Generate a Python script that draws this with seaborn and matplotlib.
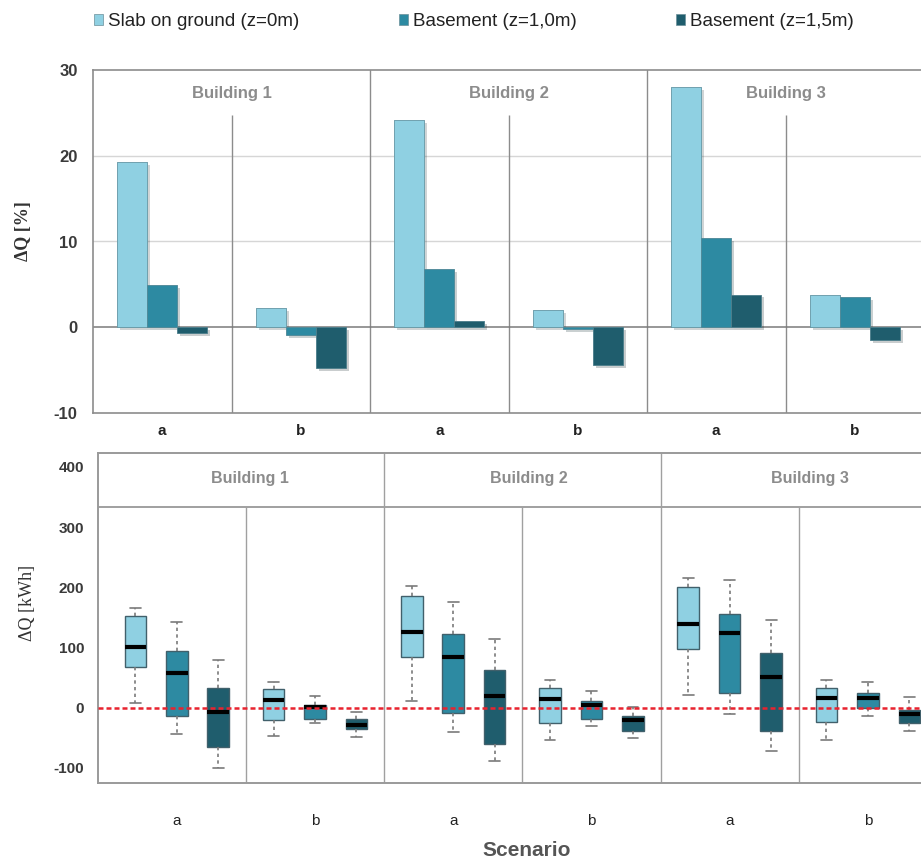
import numpy as np
import pandas as pd
import matplotlib
matplotlib.use('Agg')
import matplotlib.pyplot as plt
import matplotlib.patheffects as pe
from matplotlib.patches import Patch
import seaborn as sns

# ======================================
# data
# ======================================

buildings = ['Building 1', 'Building 2', 'Building 3']
scenarios = ['a', 'b']
groups = ['1a', '1b', '2a', '2b', '3a', '3b']
foundations = ['Slab on ground (z=0m)', 'Basement (z=1,0m)', 'Basement (z=1,5m)']
colors = ['#8fd0e2', '#2d8aa2', '#1f5d6d']

# relative change [%], group order 1a, 1b, 2a, 2b, 3a, 3b
dq_pct_slab = [19.3, 2.2, 24.2, 2.0, 28.0, 3.8]
dq_pct_b10 = [4.9, -0.9, 6.8, -0.2, 10.4, 3.5]
dq_pct_b15 = [-0.7, -4.8, 0.7, -4.4, 3.8, -1.5]

# absolute change [kWh]: whisker low, q1, median, q3, whisker high
dq_kwh_slab = [
    [8, 67, 101, 153, 166],
    [-47, -21, 13, 31, 42],
    [11, 84, 125, 186, 202],
    [-54, -25, 14, 33, 46],
    [21, 97, 139, 200, 216],
    [-53, -24, 16, 32, 46],
]
dq_kwh_b10 = [
    [-44, -14, 58, 95, 142],
    [-26, -18, 1, 4, 19],
    [-40, -8, 85, 122, 175],
    [-31, -19, 4, 11, 27],
    [-10, 25, 124, 156, 212],
    [-13, 0, 16, 25, 42],
]
dq_kwh_b15 = [
    [-100, -65, -7, 33, 80],
    [-48, -36, -28, -19, -7],
    [-89, -61, 19, 62, 114],
    [-51, -39, -21, -14, 2],
    [-72, -38, 51, 91, 146],
    [-38, -25, -11, -3, 17],
]

pct = pd.DataFrame({
    'group': groups * 3,
    'foundation': np.repeat(foundations, len(groups)),
    'dq': dq_pct_slab + dq_pct_b10 + dq_pct_b15,
})

rows = []
for f, stats in zip(foundations, [dq_kwh_slab, dq_kwh_b10, dq_kwh_b15]):
    for g, s in zip(groups, stats):
        for v in s:
            rows.append((g, f, v))
kwh = pd.DataFrame(rows, columns=['group', 'foundation', 'dq'])

# ======================================
# style
# ======================================

sns.set_style('white')
plt.rcParams['font.family'] = ['Liberation Sans', 'DejaVu Sans']
plt.rcParams['axes.unicode_minus'] = False
GRAY = '#8c8c8c'
TXT = '#3a3a3a'

W, H = 921, 863
fig = plt.figure(figsize=(W / 100, H / 100), dpi=100)

# ======================================
# 1. BAR CHART  dQ [%]
# ======================================

ax1 = fig.add_axes([93 / W, 1 - 413 / H, 831 / W, 343 / H])

sns.barplot(
    data=pct, x='group', y='dq', hue='foundation',
    order=groups, hue_order=foundations, palette=colors, saturation=1,
    width=0.65, gap=0, errorbar=None, legend=False,
    edgecolor='#5d8b97', linewidth=0.4, zorder=3, ax=ax1
)
for bar in ax1.patches:
    bar.set_path_effects([pe.withSimplePatchShadow(offset=(2, -2), alpha=0.22), pe.Normal()])

ax1.set_xlim(-0.5, 5.5)
ax1.set_ylim(-10, 30)
ax1.set_yticks([-10, 0, 10, 20, 30])
for y in [10, 20]:
    ax1.axhline(y, color='#d6d6d6', lw=1, zorder=0)
ax1.axhline(0, color='#7a7a7a', lw=1.1, zorder=2)

for x in [1.5, 3.5]:
    ax1.axvline(x, color=GRAY, lw=1, zorder=1)
ax1.vlines([0.5, 2.5, 4.5], -10, 24.7, color=GRAY, lw=1, zorder=1)

for i, b in enumerate(buildings):
    ax1.text(2 * i + 0.5, 27.3, b, ha='center', va='center',
             color=GRAY, fontsize=12, fontweight='bold')

ax1.set_xticks(range(len(groups)))
ax1.set_xticklabels(scenarios * 3, fontsize=11, fontweight='bold', color='#222222')
ax1.tick_params(axis='x', length=0, pad=8)
ax1.tick_params(axis='y', length=8, color=GRAY, width=1, labelsize=12,
                labelcolor=TXT, pad=3)
for t in ax1.get_yticklabels():
    t.set_fontweight('bold')

for s in ['left', 'bottom', 'top']:
    ax1.spines[s].set_color(GRAY)
    ax1.spines[s].set_linewidth(1.2)
ax1.spines['right'].set_visible(False)

ax1.set_xlabel('')
ax1.set_ylabel('ΔQ [%]', family=['Liberation Serif', 'DejaVu Serif'],
               fontsize=13, fontweight='bold', color='#333333')
ax1.yaxis.set_label_coords(-0.073, 0.53)

# ======================================
# 2. BOX PLOT  dQ [kWh]
# ======================================

ax2 = fig.add_axes([98 / W, 1 - 783 / H, 839 / W, 330 / H])

sns.boxplot(
    data=kwh, x='group', y='dq', hue='foundation',
    order=groups, hue_order=foundations, palette=colors, saturation=1,
    width=0.9, gap=0.48, whis=(0, 100), legend=False,
    linecolor='#41606b', linewidth=1,
    medianprops=dict(color='black', linewidth=3),
    whiskerprops=dict(color='#7a7a7a', linestyle=(0, (2, 2)), linewidth=1.2),
    capprops=dict(color='#7a7a7a', linewidth=1.2),
    ax=ax2
)

ax2.set_xlim(-0.57, 5.5)
ax2.set_ylim(-125, 423)
ax2.set_yticks([-100, 0, 100, 200, 300, 400])

ax2.axhline(0, color='#e8232f', lw=1.8, ls=(0, (2, 1.2)), zorder=5)
ax2.axhline(333, color='#a0a0a0', lw=1.4, zorder=1)
for x in [1.5, 3.5]:
    ax2.axvline(x, color='#a0a0a0', lw=1, zorder=1)
ax2.vlines([0.5, 2.5, 4.5], -125, 333, color='#a0a0a0', lw=1, zorder=1)

for x, b in zip([0.53, 2.55, 4.58], buildings):
    ax2.text(x, 381, b, ha='center', va='center',
             color=GRAY, fontsize=11.5, fontweight='bold')

ax2.set_xticks(range(len(groups)))
ax2.set_xticklabels(scenarios * 3, fontsize=11, color='#222222')
ax2.set_xticks([g + d for g in range(len(groups)) for d in (-0.3, 0.3)], minor=True)
ax2.tick_params(axis='x', which='both', length=7, color='#8a8a8a', width=1.2, pad=15)
ax2.tick_params(axis='y', length=7, color='#8a8a8a', width=1, labelsize=11,
                labelcolor=TXT, pad=3)
for t in ax2.get_yticklabels():
    t.set_fontweight('bold')

for s in ['left', 'bottom', 'top']:
    ax2.spines[s].set_color('#9a9a9a')
    ax2.spines[s].set_linewidth(1.4)
ax2.spines['right'].set_visible(False)

ax2.set_xlabel('')
ax2.set_ylabel('ΔQ [kWh]', family=['Liberation Serif', 'DejaVu Serif'],
               fontsize=13, color='#333333')
ax2.yaxis.set_label_coords(-0.074, 0.545)

fig.text(527 / W, 1 - 850 / H, 'Scenario', ha='center', va='center',
         fontsize=15, fontweight='bold', color='#555555')

# ======================================
# legend
# ======================================

handles = [Patch(facecolor=c, edgecolor='#6b8f99', linewidth=0.5) for c in colors]
fig.legend(
    handles, foundations, loc='center left',
    bbox_to_anchor=(77 / W, 1 - 22 / H), ncol=3, frameon=False,
    handlelength=0.5, handleheight=0.5, handletextpad=0.25,
    columnspacing=5.3, labelcolor='#222222',
    prop={'family': ['Liberation Sans', 'DejaVu Sans'], 'size': 13.5}
)

fig.savefig('out.png', dpi=100)
